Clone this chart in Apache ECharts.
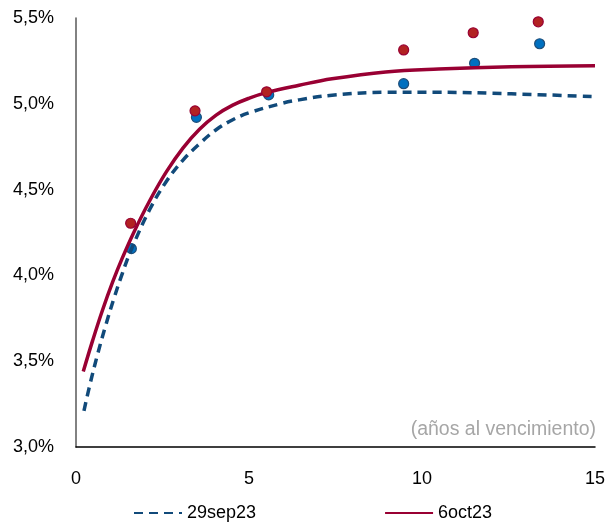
<!DOCTYPE html>
<html>
<head>
<meta charset="utf-8">
<script src="https://cdn.jsdelivr.net/npm/echarts@6/dist/echarts.min.js"></script>
<style>
html,body{margin:0;padding:0;background:#fff;}
#c{width:608px;height:529px;}
</style>
</head>
<body>
<div id="c"></div>
<script>
// Curve: [years to maturity, yield %]
const curveSep29 = [[0.23,3.21],[0.38,3.345],[0.62,3.537],[0.86,3.71],[1.10,3.868],[1.34,4.012],[1.58,4.142],[2.13,4.384],[2.61,4.547],[3.08,4.669],[3.57,4.767],[4.05,4.849],[4.53,4.907],[5.01,4.948],[5.96,5.003],[6.45,5.023],[7.40,5.05],[8.95,5.067],[10.48,5.067],[12.58,5.058],[15,5.042]];
const curveOct6 = [[0.21,3.44],[0.48,3.62],[0.77,3.80],[1.06,3.962],[1.34,4.102],[1.68,4.255],[2.13,4.435],[2.61,4.603],[3.09,4.742],[3.57,4.852],[4.05,4.934],[4.53,4.992],[5.01,5.033],[5.50,5.065],[6.45,5.108],[7.40,5.146],[8.95,5.186],[10.48,5.203],[12.58,5.216],[15,5.222]];
const pointsSep29 = [[1.60,4.156],[3.48,4.921],[5.57,5.052],[9.47,5.117],[11.52,5.236],[13.40,5.35]];
const pointsOct6 = [[1.58,4.304],[3.44,4.959],[5.51,5.07],[9.47,5.314],[11.48,5.414],[13.36,5.478]];
const seriesNames = ['29sep23','6oct23'];
const yTicks = [3.0,3.5,4.0,4.5,5.0,5.5];
const xTicks = [0,5,10,15];
const axisNote = '(años al vencimiento)';

const FONT = 'Liberation Sans';
const chart = echarts.init(document.getElementById('c'), null, {renderer:'canvas'});
chart.setOption({
  animation:false,
  backgroundColor:'#fff',
  grid:{left:76,right:11,top:18,bottom:82,containLabel:false},
  xAxis:{
    type:'value',min:xTicks[0],max:xTicks[xTicks.length-1],interval:5,
    axisLine:{show:true,onZero:false,lineStyle:{color:'#000',width:1.5}},
    axisTick:{show:false},splitLine:{show:false},
    axisLabel:{margin:23,color:'#000',fontFamily:FONT,fontSize:18}
  },
  yAxis:{
    type:'value',min:yTicks[0],max:yTicks[yTicks.length-1],interval:0.5,
    axisLine:{show:true,lineStyle:{color:'#595959',width:1.5}},
    axisTick:{show:false},splitLine:{show:false},
    axisLabel:{margin:22,color:'#000',fontFamily:FONT,fontSize:18,
      formatter:v=>v.toFixed(1).replace('.',',')+'%'}
  },
  legend:{
    data:seriesNames,bottom:2,left:128,itemWidth:48,itemHeight:12,itemGap:128,
    textStyle:{fontFamily:FONT,fontSize:18,color:'#000'}
  },
  graphic:[{type:'text',right:12,top:420,style:{text:axisNote,fill:'#a6a6a6',font:'19.5px '+FONT}}],
  series:[
    {name:'pts1',type:'scatter',data:pointsSep29,symbolSize:10,z:2,
      itemStyle:{color:'#0070c0',borderColor:'#1f4e79',borderWidth:1.2,opacity:1}},
    {name:seriesNames[0],type:'line',data:curveSep29,smooth:0.4,symbol:'circle',showSymbol:false,z:3,
      lineStyle:{color:'#114a7a',width:3.5,type:[9,6]},itemStyle:{color:'rgba(0,0,0,0)'}},
    {name:seriesNames[1],type:'line',data:curveOct6,smooth:0.4,symbol:'circle',showSymbol:false,z:4,
      lineStyle:{color:'#990033',width:3.5},itemStyle:{color:'rgba(0,0,0,0)'}},
    {name:'pts2',type:'scatter',data:pointsOct6,symbolSize:10,z:5,
      itemStyle:{color:'#b22222',borderColor:'#990033',borderWidth:1.2,opacity:1}}
  ]
});
</script>
</body>
</html>
